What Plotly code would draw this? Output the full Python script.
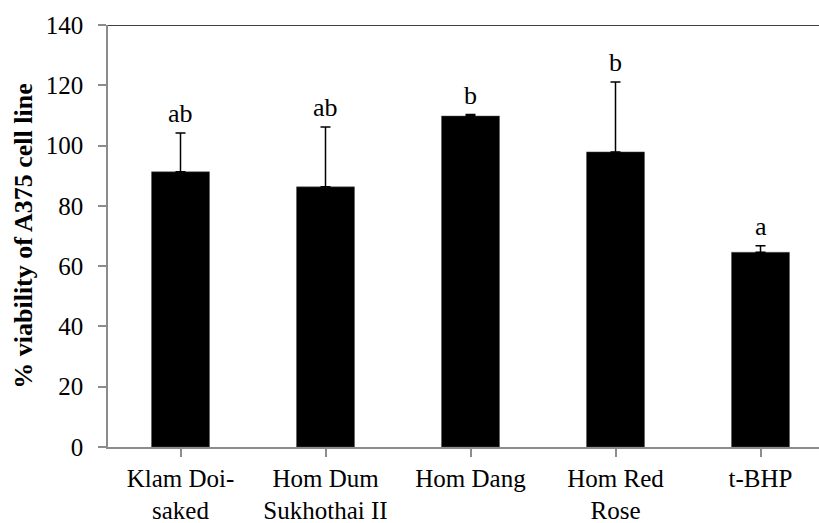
import plotly.graph_objects as go

categories = ["Klam Doi-<br>saked", "Hom Dum<br>Sukhothai II", "Hom Dang", "Hom Red<br>Rose", "t-BHP"]
viability = [91.3, 86.3, 109.8, 97.9, 64.6]
sd = [12.9, 19.9, 0.5, 23.2, 2.2]
letters = ["ab", "ab", "b", "b", "a"]
y_ticks = [0, 20, 40, 60, 80, 100, 120, 140]

FONT = "Liberation Serif, Times New Roman, serif"
W, H = 819, 523
ml, mr, mt, mb = 108, 0, 25, 76
cat_px = 145.0
plot_w = W - ml - mr

fig = go.Figure()
fig.add_trace(go.Bar(
    x=list(range(len(categories))),
    y=viability,
    width=0.4,
    marker=dict(color="black", line=dict(color="#555555", width=0.5)),
    error_y=dict(type="data", symmetric=False, array=sd, arrayminus=[0] * len(sd),
                 color="black", thickness=1.5, width=5),
    showlegend=False,
))

for i, (v, e, t) in enumerate(zip(viability, sd, letters)):
    fig.add_annotation(x=i, y=v + e, text=t, showarrow=False, yanchor="bottom",
                       yshift=3, font=dict(family=FONT, size=26, color="black"))

fig.add_shape(type="line", xref="paper", yref="y", x0=0, x1=1, y0=140, y1=140,
              line=dict(color="black", width=1.5))

fig.update_layout(
    width=W, height=H,
    margin=dict(l=ml, r=mr, t=mt, b=mb),
    paper_bgcolor="white", plot_bgcolor="white",
    font=dict(family=FONT, size=25, color="black"),
    xaxis=dict(
        range=[-0.5, -0.5 + plot_w / cat_px],
        tickmode="array", tickvals=list(range(len(categories))), ticktext=categories,
        showgrid=False, zeroline=False,
        showline=True, linecolor="#8c8c8c", linewidth=1.5,
        ticks="outside", ticklen=8, tickcolor="#8c8c8c", tickwidth=1.5,
        tickson="boundaries",
        tickfont=dict(family=FONT, size=25, color="black"),
    ),
    yaxis=dict(
        range=[0, 140],
        tickmode="array", tickvals=y_ticks,
        showgrid=False, zeroline=False,
        showline=True, linecolor="#8c8c8c", linewidth=1.5,
        ticks="outside", ticklen=8, tickcolor="#8c8c8c", tickwidth=1.5,
        ticklabelstandoff=10,
        tickfont=dict(family=FONT, size=25, color="black"),
        title=dict(text="<b>% viability of A375 cell line</b>",
                   font=dict(family=FONT, size=26, color="black"), standoff=6),
    ),
)

fig.write_html("out.html")
